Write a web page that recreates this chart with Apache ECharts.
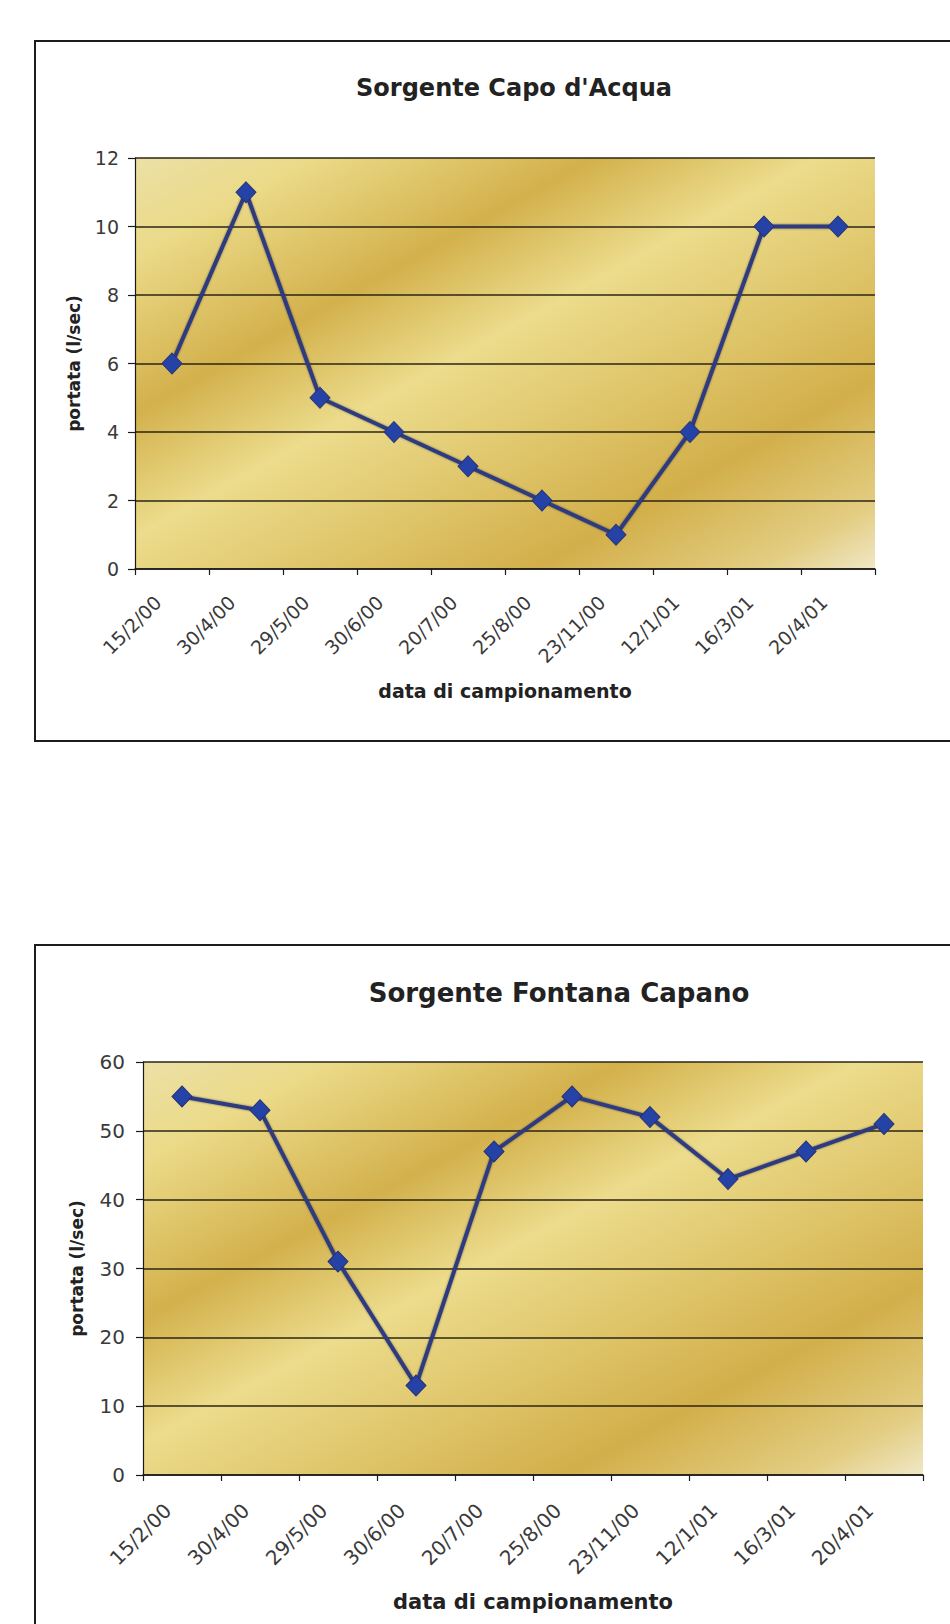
<!DOCTYPE html>
<html>
<head>
<meta charset="utf-8">
<script src="https://cdn.jsdelivr.net/npm/echarts@6/dist/echarts.min.js"></script>
<style>
  html, body { margin: 0; padding: 0; background: #fff; width: 950px; height: 1624px; overflow: hidden; }
  .frame { position: absolute; border: 2px solid #1c1c1c; box-sizing: border-box; }
  #frame1 { left: 34px; top: 40px; width: 980px; height: 702px; }
  #frame2 { left: 34px; top: 944px; width: 980px; height: 740px; }
  #chart { position: absolute; left: 0; top: 0; width: 950px; height: 1624px; }
</style>
</head>
<body>
<div class="frame" id="frame1"></div>
<div class="frame" id="frame2"></div>
<div id="chart"></div>
<script>
// Sampling dates (shared by both springs)
const dates = ['15/2/00', '30/4/00', '29/5/00', '30/6/00', '20/7/00', '25/8/00', '23/11/00', '12/1/01', '16/3/01', '20/4/01'];

// Discharge, l/sec
const capoAcqua = [6, 11, 5, 4, 3, 2, 1, 4, 10, 10];
const fontanaCapano = [55, 53, 31, 13, 47, 55, 52, 43, 47, 51];

// Value-axis ranges
const capoAxis = { min: 0, max: 12, interval: 2 };
const fontanaAxis = { min: 0, max: 60, interval: 10 };

const titles = ["Sorgente Capo d'Acqua", 'Sorgente Fontana Capano'];
const yName = 'portata (l/sec)';
const xName = 'data di campionamento';

const FONT = '"DejaVu Sans", "Liberation Sans", Arial, sans-serif';

// "Gold" diagonal fill of the plot areas
function goldFill() {
  return {
    type: 'linear', x: 0, y: 0, x2: 1, y2: 1,
    colorStops: [
      { offset: 0.00, color: '#ECE0A6' },
      { offset: 0.12, color: '#EBDA88' },
      { offset: 0.31, color: '#D3B14C' },
      { offset: 0.46, color: '#ECDC8C' },
      { offset: 0.62, color: '#DFC56A' },
      { offset: 0.77, color: '#D2AF4A' },
      { offset: 0.92, color: '#E3CD82' },
      { offset: 1.00, color: '#F0E8C6' }
    ]
  };
}

function makeX(gridIndex, labelSize, nameSize, nameGap, margin) {
  return {
    type: 'category', gridIndex, data: dates, boundaryGap: true,
    axisLine: { show: true, lineStyle: { color: '#1a1a1a', width: 1.5 } },
    axisTick: { show: true, inside: false, length: 6, alignWithLabel: false, lineStyle: { color: '#1a1a1a', width: 1.2 } },
    axisLabel: {
      rotate: 45, margin, padding: [0, 20, 0, 0],
      fontFamily: FONT, fontSize: labelSize, color: '#3a3a3a', interval: 0
    },
    splitLine: { show: false },
    name: xName, nameLocation: 'middle', nameGap,
    nameTextStyle: { fontFamily: FONT, fontWeight: 'bold', fontSize: nameSize, color: '#222' }
  };
}

function makeY(gridIndex, range, labelSize, nameSize, nameGap, margin) {
  return {
    type: 'value', gridIndex, min: range.min, max: range.max, interval: range.interval,
    axisLine: { show: true, lineStyle: { color: '#1a1a1a', width: 1.2 } },
    axisTick: { show: true, length: 7, lineStyle: { color: '#1a1a1a', width: 1.2 } },
    axisLabel: { margin, fontFamily: FONT, fontSize: labelSize, color: '#3a3a3a' },
    splitLine: { show: true, lineStyle: { color: '#2b2616', width: 1.5 } },
    name: yName, nameLocation: 'middle', nameGap, nameRotate: 90,
    nameTextStyle: { fontFamily: FONT, fontWeight: 'bold', fontSize: nameSize, color: '#222' }
  };
}

function makeSeries(idx, values) {
  return {
    type: 'line', xAxisIndex: idx, yAxisIndex: idx, data: values,
    symbol: 'diamond', symbolSize: [20, 21],
    lineStyle: { color: '#2E3A7E', width: 4, shadowColor: 'rgba(20,20,40,0.5)', shadowBlur: 2 },
    itemStyle: { color: '#2542A6', borderColor: '#283272', borderWidth: 1 },
    z: 5, animation: false
  };
}

const chart = echarts.init(document.getElementById('chart'), null, { renderer: 'svg' });

chart.setOption({
  animation: false,
  backgroundColor: 'transparent',
  grid: [
    { left: 135, top: 158, width: 740, height: 411, show: true, borderWidth: 0, backgroundColor: goldFill() },
    { left: 143, top: 1062, width: 780, height: 413, show: true, borderWidth: 0, backgroundColor: goldFill() }
  ],
  xAxis: [
    makeX(0, 19, 19, 112, 16),
    makeX(1, 20, 21, 116, 18)
  ],
  yAxis: [
    makeY(0, capoAxis, 19, 17, 53, 16),
    makeY(1, fontanaAxis, 20, 17, 58, 18)
  ],
  series: [
    makeSeries(0, capoAcqua),
    makeSeries(1, fontanaCapano)
  ],
  graphic: [
    {
      type: 'text', x: 514, y: 88,
      style: { text: titles[0], fontFamily: FONT, fontWeight: 'bold', fontSize: 24, fill: '#222', align: 'center', verticalAlign: 'middle' }
    },
    {
      type: 'text', x: 559, y: 993,
      style: { text: titles[1], fontFamily: FONT, fontWeight: 'bold', fontSize: 26, fill: '#222', align: 'center', verticalAlign: 'middle' }
    }
  ]
});
</script>
</body>
</html>
